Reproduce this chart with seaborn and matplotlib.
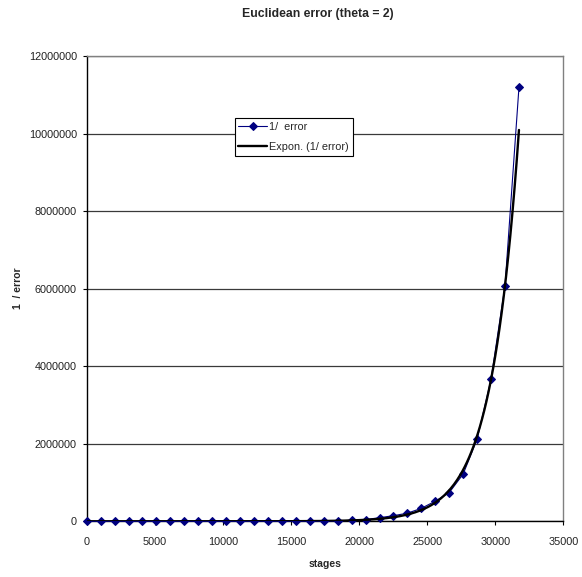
import numpy as np
import pandas as pd
import matplotlib
matplotlib.use("Agg")
import matplotlib.pyplot as plt
from matplotlib.ticker import FuncFormatter
import seaborn as sns

# ---- data ----
stages = [0, 1024, 2048, 3072, 4096, 5120, 6144, 7168, 8192, 9216,
          10240, 11264, 12288, 13312, 14336, 15360, 16384, 17408, 18432, 19456,
          20480, 21504, 22528, 23552, 24576, 25600, 26624, 27648, 28672, 29696,
          30720, 31744]
inv_error = [1.8, 3.0, 4.8, 7.7, 12.4, 20, 32, 52, 84, 136,
             220, 350, 570, 920, 1500, 2400, 3900, 6200, 10000, 26000,
             45000, 93000, 145000, 210000, 335000, 520000, 740000, 1220000, 2120000, 3670000,
             6080000, 11200000]
x_ticks = [0, 5000, 10000, 15000, 20000, 25000, 30000, 35000]
y_ticks = [0, 2000000, 4000000, 6000000, 8000000, 10000000, 12000000]

title = "Euclidean error (theta = 2)"
x_label = "stages"
y_label = "1  / error"
series_label = "1/  error"
trend_label = "Expon. (1/ error)"

# ---- exponential trend line (least squares on ln y, as Excel does) ----
xs = np.asarray(stages, dtype=float)
ys = np.asarray(inv_error, dtype=float)
b, ln_a = np.polyfit(xs, np.log(ys), 1)
trend_x = np.linspace(xs.min(), xs.max(), 400)
trend_y = np.exp(ln_a) * np.exp(b * trend_x)

df = pd.DataFrame({"stages": stages, "inv_error": inv_error})
trend_df = pd.DataFrame({"stages": trend_x, "trend": trend_y})

# ---- styling ----
sns.set_style("white")
plt.rcParams["font.family"] = ["Liberation Sans", "DejaVu Sans"]

fig = plt.figure(figsize=(5.82, 5.77), dpi=100)
W, H = 582, 577
left, right, top, bottom = 86.7, 563.3, 56.3, 521.3
ax = fig.add_axes([left / W, 1 - bottom / H, (right - left) / W, (bottom - top) / H])

sns.lineplot(data=df, x="stages", y="inv_error", ax=ax, color="#000080",
             linewidth=0.8, marker="D", markersize=3.6, markeredgecolor="#000080",
             markerfacecolor="#000080", label=series_label, clip_on=False, zorder=3)
sns.lineplot(data=trend_df, x="stages", y="trend", ax=ax, color="black",
             linewidth=1.7, label=trend_label, zorder=4)

ax.set_xlim(0, 35000)
ax.set_ylim(0, 12000000)
ax.set_xticks(x_ticks)
ax.set_yticks(y_ticks)
ax.yaxis.set_major_formatter(FuncFormatter(lambda v, p: f"{int(round(v))}"))
ax.xaxis.set_major_formatter(FuncFormatter(lambda v, p: f"{int(round(v))}"))

ax.yaxis.grid(True, color="#3a3a3a", linewidth=0.9)
ax.xaxis.grid(False)
ax.set_axisbelow(True)

for side in ["left", "bottom"]:
    ax.spines[side].set_color("black")
    ax.spines[side].set_linewidth(1.0)
for side in ["top", "right"]:
    ax.spines[side].set_color("#808080")
    ax.spines[side].set_linewidth(1.0)

ax.tick_params(axis="y", which="major", direction="out", length=3, width=0.8,
               color="black", pad=4, labelsize=7.8, labelcolor="#222222", left=True)
ax.tick_params(axis="x", which="major", direction="out", length=3, width=0.8,
               color="black", pad=8, labelsize=7.8, labelcolor="#222222", bottom=True)

ax.set_xlabel("")
ax.set_ylabel("")
fig.text(325 / W, 1 - 564 / H, x_label, ha="center", va="center",
         fontsize=7.5, fontweight="bold")
fig.text(18.3 / W, 1 - 288 / H, y_label, ha="center", va="center",
         rotation=90, fontsize=7.5, fontweight="bold")
fig.text(318 / W, 1 - 13.5 / H, title, ha="center", va="center",
         fontsize=8.8, fontweight="bold")

leg = ax.legend(loc="upper left", bbox_to_anchor=(0.3105, 0.8673), borderaxespad=0,
                fontsize=7.8, frameon=True, fancybox=False, framealpha=1,
                edgecolor="black", borderpad=0.35, labelspacing=0.95,
                handlelength=2.6, handletextpad=0.25)
leg.get_frame().set_linewidth(0.8)
leg.set_zorder(10)

fig.savefig("out.png", dpi=100)
